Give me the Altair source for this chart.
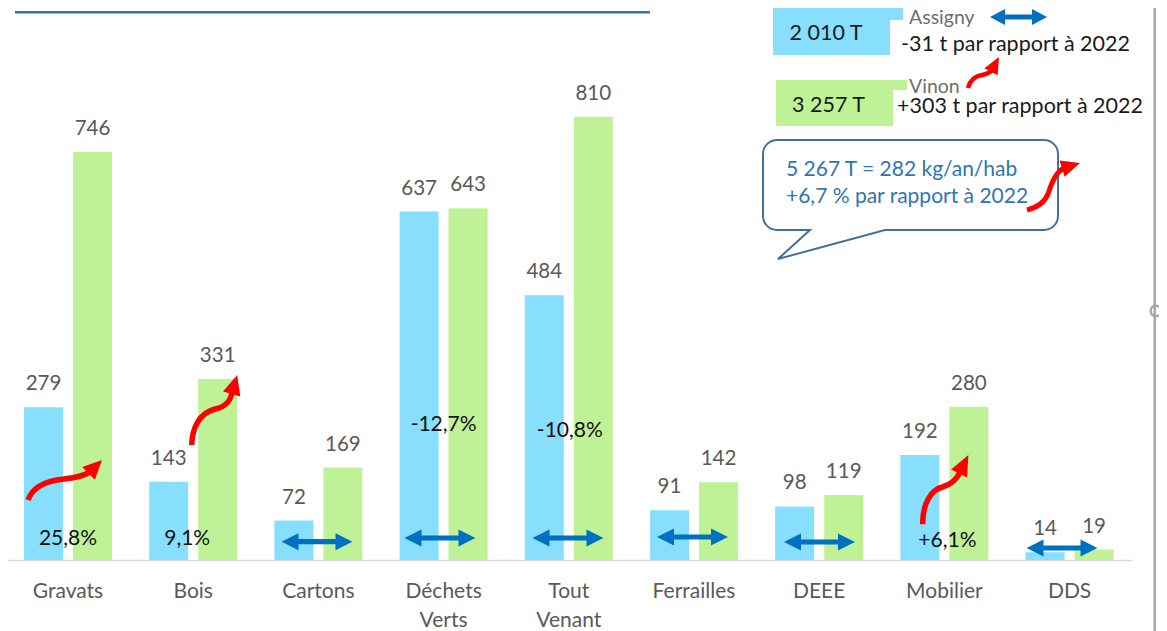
import math
import altair as alt
import pandas as pd

# ---------------- data ----------------
categories = ["Gravats", "Bois", "Cartons", "Déchets Verts", "Tout Venant",
              "Ferrailles", "DEEE", "Mobilier", "DDS"]
sites = ["Assigny", "Vinon"]
assigny = [279, 143, 72, 637, 484, 91, 98, 192, 14]
vinon = [746, 331, 169, 643, 810, 142, 119, 280, 19]
site_colors = ["#87DFFD", "#BFF297"]

pct_cats = ["Gravats", "Bois", "Déchets Verts", "Tout Venant", "Mobilier"]
pct_texts = ["25,8%", "9,1%", "-12,7%", "-10,8%", "+6,1%"]
up_cats = ["Gravats", "Bois", "Mobilier"]
flat_cats = ["Cartons", "Déchets Verts", "Tout Venant", "Ferrailles", "DEEE", "DDS"]

title_text = "TONNAGES MATERIAUX PAR DECHETERIES"
totals = ["2 010 T", "3 257 T"]
changes = ["-31 t par rapport à 2022", "+303 t par rapport à 2022"]
callout_lines = ["5 267 T = 282 kg/an/hab", "+6,7 % par rapport à 2022"]

rows = []
for c, a, v in zip(categories, assigny, vinon):
    rows.append({"cat": c, "site": sites[0], "v": a})
    rows.append({"cat": c, "site": sites[1], "v": v})
df = pd.DataFrame(rows)

# ---------------- layout / style ----------------
W, H = 1124, 552
YMAX = 1009
FONT = "Lato"
RED = "#FF0000"
BLUE_ARROW = "#0070C0"

xscale = alt.Scale(domain=categories, paddingInner=0.297, paddingOuter=0.1373,
                   align=0.465, round=False)
yscale = alt.Scale(domain=[0, YMAX], nice=False, zero=True)
xoff_scale = alt.Scale(domain=sites, paddingInner=0.204, paddingOuter=0, round=False)

xaxis = alt.Axis(title=None, labelAngle=0, labelFont=FONT, labelFontSize=21,
                 labelColor="#595959", labelPadding=20, labelLineHeight=29,
                 labelExpr="split(datum.label, ' ')", ticks=False, tickSize=0,
                 domainColor="#D9D9D9", domainWidth=1.5, grid=False)


def X():
    return alt.X("cat:N", sort=categories, scale=xscale, axis=xaxis)


def Y():
    return alt.Y("v:Q", scale=yscale, axis=None)


def dbl_arrow(cx, cy, L, hl, hh, st):
    a = L / 2
    pts = [(-a, 0), (-a + hl, -hh), (-a + hl, -st), (a - hl, -st), (a - hl, -hh),
           (a, 0), (a - hl, hh), (a - hl, st), (-a + hl, st), (-a + hl, hh)]
    return "M" + " L".join(f"{cx + x:.1f},{cy + y:.1f}" for x, y in pts) + " Z"


def head(B, T, hw, back=2.0):
    dx, dy = T[0] - B[0], T[1] - B[1]
    n = math.hypot(dx, dy)
    ux, uy = dx / n, dy / n
    px, py = -uy, ux
    bx, by = B[0] - ux * back, B[1] - uy * back
    return (f"M{T[0]:.1f},{T[1]:.1f} L{bx + px * hw:.1f},{by + py * hw:.1f} "
            f"L{bx - px * hw:.1f},{by - py * hw:.1f} Z")


# curvy red arrows, relative to (category centre, baseline)
up_shapes = {
    "Gravats": ("M-40,-60 C-36,-71 -24,-79 -4,-81 C8,-82 15,-84 22,-88", (22, -88), (34, -100)),
    "Bois": ("M-1.5,-115 C-1,-132 6,-147 22,-151 C32,-153 37,-158 39,-168", (39, -168), (44, -185)),
    "Mobilier": ("M-21.7,-35.7 C-22,-55 -14,-70 -2,-73 C8,-76 13,-81 15.6,-88.3", (15.6, -88.3), (24, -105)),
}
flat_offsets = {
    "Cartons": (-1.4, -18.3), "Déchets Verts": (-3.6, -22), "Tout Venant": (-0.8, -22),
    "Ferrailles": (-1.5, -23), "DEEE": (0.3, -18), "DDS": (-7.6, -12),
}
# (horizontal nudge, baseline in plot pixels)
pct_pos = {
    "Gravats": (0, 537), "Bois": (-6, 537), "Déchets Verts": (0, 423),
    "Tout Venant": (1, 429), "Mobilier": (3, 539),
}

layers = []

# bars
layers.append(
    alt.Chart(df).mark_bar().encode(
        x=X(),
        xOffset=alt.XOffset("site:N", scale=xoff_scale, sort=sites),
        y=Y(),
        color=alt.Color("site:N", scale=alt.Scale(domain=sites, range=site_colors), legend=None),
    )
)
# value labels
layers.append(
    alt.Chart(df).mark_text(font=FONT, fontSize=20.5, color="#595959", dy=-17,
                            baseline="alphabetic").encode(
        x=X(),
        xOffset=alt.XOffset("site:N", scale=xoff_scale, sort=sites),
        y=Y(),
        text=alt.Text("v:Q"),
    )
)

# blue double arrows (stable)
for c in flat_cats:
    ox, oy = flat_offsets[c]
    layers.append(
        alt.Chart(pd.DataFrame({"cat": [c], "v": [0]})).mark_point(
            shape=dbl_arrow(ox, oy, 71, 17, 8.5, 2.6), size=4, filled=True,
            color=BLUE_ARROW, opacity=1).encode(x=X(), y=Y())
    )

# red rising arrows
for c in up_cats:
    curve, B, T = up_shapes[c]
    d1 = pd.DataFrame({"cat": [c], "v": [0]})
    layers.append(
        alt.Chart(d1).mark_point(shape=curve, size=4, filled=False, color=RED, stroke=RED,
                                 strokeWidth=5.5, strokeCap="butt", opacity=1).encode(x=X(), y=Y())
    )
    layers.append(
        alt.Chart(d1).mark_point(shape=head(B, T, 9), size=4, filled=True, color=RED,
                                 opacity=1).encode(x=X(), y=Y())
    )

# percentage texts
for c, t in zip(pct_cats, pct_texts):
    dx, yy = pct_pos[c]
    layers.append(
        alt.Chart(pd.DataFrame({"cat": [c], "t": [t]})).mark_text(
            font=FONT, fontSize=21, color="#111111", baseline="alphabetic", dx=dx).encode(
            x=X(), y=alt.value(yy), text="t:N")
    )

one = pd.DataFrame({"a": [0]})

# title (cut at the top edge like the original) + underline
layers.append(
    alt.Chart(one).mark_text(font=FONT, fontWeight="bold", fontSize=31, color="#2E75B6",
                             align="left", baseline="alphabetic").encode(
        x=alt.value(12), y=alt.value(-1), text=alt.value(title_text))
)
layers.append(
    alt.Chart(one).mark_rule(color="#2E75B6", strokeWidth=2.4).encode(
        x=alt.value(7), x2=alt.value(642), y=alt.value(4.2))
)

# legend boxes
for (x1, x2, y1, y2), col in [((765, 882, 0, 47), site_colors[0]), ((882, 895, 0, 12), site_colors[0]),
                              ((768, 885, 72, 118), site_colors[1]), ((885, 899, 72, 82), site_colors[1])]:
    layers.append(
        alt.Chart(one).mark_rect(color=col).encode(
            x=alt.value(x1), x2=alt.value(x2), y=alt.value(y1), y2=alt.value(y2))
    )

legend_texts = [
    (totals[0], 818, 32, "center", "#1A1A1A", 21.5),
    (totals[1], 820.5, 104, "center", "#1A1A1A", 21.5),
    (sites[0], 901, 16, "left", "#6E6E6E", 19.5),
    (changes[0], 893, 42.7, "left", "#1A1A1A", 21.5),
    (sites[1], 901, 84.5, "left", "#6E6E6E", 19.5),
    (changes[1], 889, 105, "left", "#1A1A1A", 21.5),
]
for t, xx, yy, al, col, fs in legend_texts:
    layers.append(
        alt.Chart(one).mark_text(font=FONT, fontSize=fs, color=col, align=al,
                                 baseline="alphabetic").encode(
            x=alt.value(xx), y=alt.value(yy), text=alt.value(t))
    )

# legend double arrow
layers.append(
    alt.Chart(one).mark_point(shape=dbl_arrow(0, 0, 57, 15, 8, 2.4), size=4, filled=True,
                              color=BLUE_ARROW, opacity=1).encode(
        x=alt.value(1010.5), y=alt.value(9))
)

# callout bubble
callout_path = ("M14,0 H281 A14,14 0 0 1 295,14 V76 A14,14 0 0 1 281,90 H122 L15,119 L47,90 "
                "H14 A14,14 0 0 1 0,76 V14 A14,14 0 0 1 14,0 Z")
layers.append(
    alt.Chart(one).mark_point(shape=callout_path, size=4, filled=True, fill="white",
                              stroke="#41719C", strokeWidth=2, opacity=1).encode(
        x=alt.value(755), y=alt.value(132))
)
for t, yy in zip(callout_lines, [168, 195]):
    layers.append(
        alt.Chart(one).mark_text(font=FONT, fontSize=21, color="#2F75B5", align="left",
                                 baseline="alphabetic").encode(
            x=alt.value(778), y=alt.value(yy), text=alt.value(t))
    )

# red arrows in legend / callout
for (ax, ay), curve, B, T, sw, hw in [
    ((960, 80), "M0,0 C2,-8 8,-12 14,-13 C19,-14 22,-15 24,-18", (24, -18), (31, -31), 4.5, 7.5),
    ((1019, 202), "M0,0 C8,-2 17,-6 21,-16 C25,-28 29,-38 37,-42", (37, -42), (53, -47), 5, 8.5),
]:
    layers.append(
        alt.Chart(one).mark_point(shape=curve, size=4, filled=False, color=RED, stroke=RED,
                                  strokeWidth=sw, strokeCap="butt", opacity=1).encode(
            x=alt.value(ax), y=alt.value(ay))
    )
    layers.append(
        alt.Chart(one).mark_point(shape=head(B, T, hw), size=4, filled=True, color=RED,
                                  opacity=1).encode(x=alt.value(ax), y=alt.value(ay))
    )

# right-hand frame edge with handle
layers.append(
    alt.Chart(one).mark_point(shape="circle", size=113, filled=True, fill="white",
                              stroke="#A6A6A6", strokeWidth=2.5, opacity=1).encode(
        x=alt.value(1148), y=alt.value(303))
)
layers.append(
    alt.Chart(one).mark_rect(color="#A6A6A6").encode(
        x=alt.value(1145.5), x2=alt.value(1148), y=alt.value(0), y2=alt.value(623))
)

chart = alt.layer(*layers).properties(
    width=W, height=H,
    padding={"left": 0, "top": 0, "right": 27, "bottom": 71},
    autosize=alt.AutoSizeParams(type="none"),
    background="white",
).configure_view(stroke="transparent")

chart.save("out.html", embed_options={"renderer": "svg", "actions": False})
